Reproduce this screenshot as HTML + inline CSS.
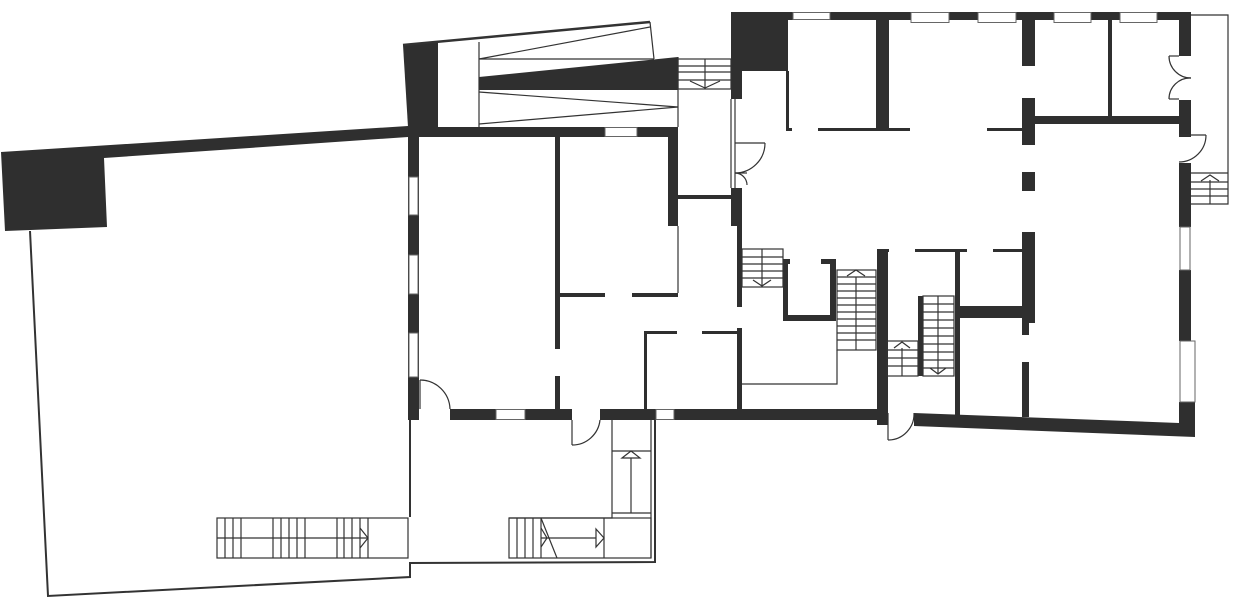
<!DOCTYPE html>
<html><head><meta charset="utf-8"><style>html,body{margin:0;padding:0;background:#fff}svg{display:block}</style></head><body>
<svg width="1251" height="598" viewBox="0 0 1251 598" xmlns="http://www.w3.org/2000/svg">
<g fill="#2f2f2f" stroke="none">
<polygon points="1,152 408,126 408,137 104,158 107,227 5,231"/>
<polygon points="403,45 438,42 438,127 408,127"/>
<polygon points="479,77 678,57 678,90 479,90"/>
<rect x="400" y="127" width="278" height="10"/>
<rect x="408" y="127" width="11" height="293"/>
<rect x="555" y="137" width="5" height="212"/>
<rect x="555" y="376" width="5" height="33"/>
<rect x="668" y="137" width="10" height="89"/>
<rect x="560" y="293" width="45" height="4"/>
<rect x="632" y="293" width="46" height="4"/>
<rect x="644" y="332" width="3" height="77"/>
<rect x="644" y="331" width="33" height="3"/>
<rect x="702" y="331" width="36" height="3"/>
<rect x="737" y="328" width="5" height="81"/>
<rect x="450" y="409" width="122" height="11"/>
<rect x="600" y="409" width="277" height="11"/>
<rect x="678" y="195" width="53" height="4"/>
<rect x="731" y="12" width="460" height="8"/>
<rect x="731" y="12" width="57" height="59"/>
<rect x="731" y="12" width="11" height="87"/>
<rect x="731" y="188" width="11" height="38"/>
<rect x="737" y="226" width="5" height="81"/>
<rect x="786" y="71" width="3" height="59"/>
<rect x="786" y="128" width="6" height="3"/>
<rect x="818" y="128" width="92" height="3"/>
<rect x="987" y="128" width="35" height="3"/>
<rect x="876" y="12" width="13" height="119"/>
<rect x="1022" y="12" width="13" height="54"/>
<rect x="1022" y="98" width="13" height="47"/>
<rect x="1022" y="172" width="13" height="19"/>
<rect x="1022" y="232" width="13" height="91"/>
<rect x="1022" y="323" width="7" height="12"/>
<rect x="1022" y="362" width="7" height="55"/>
<rect x="1035" y="116" width="144" height="8"/>
<rect x="1108" y="20" width="4" height="96"/>
<rect x="1179" y="12" width="12" height="44"/>
<rect x="1179" y="100" width="12" height="37"/>
<rect x="1179" y="163" width="12" height="64"/>
<rect x="1179" y="270" width="12" height="71"/>
<polygon points="914,413 1179,423 1179,402 1195,402 1195,437 914,426"/>
<rect x="877" y="250" width="11" height="175"/>
<rect x="877" y="249" width="12" height="3"/>
<rect x="915" y="249" width="52" height="3"/>
<rect x="993" y="249" width="29" height="3"/>
<rect x="955" y="251" width="5" height="165"/>
<rect x="960" y="306" width="75" height="12"/>
<rect x="783" y="259" width="5" height="62"/>
<rect x="783" y="259" width="7" height="5"/>
<rect x="783" y="315" width="53" height="6"/>
<rect x="830" y="259" width="6" height="62"/>
<rect x="821" y="259" width="15" height="5"/>
<rect x="918" y="296" width="5" height="80"/>
<rect x="720" y="409" width="157" height="11"/>
</g>
<g fill="#fff" stroke="#666" stroke-width="1">
<rect x="605" y="127.5" width="32" height="9"/>
<rect x="409" y="177" width="9" height="38"/>
<rect x="409" y="255" width="9" height="39"/>
<rect x="409" y="333" width="9" height="44"/>
<rect x="496" y="409.5" width="29" height="10"/>
<rect x="656" y="409.5" width="18" height="10"/>
<rect x="793" y="12.5" width="37" height="7"/>
<rect x="911" y="12.5" width="38" height="10"/>
<rect x="978" y="12.5" width="38" height="10"/>
<rect x="1054" y="12.5" width="37" height="10"/>
<rect x="1120" y="12.5" width="37" height="10"/>
<rect x="1180" y="227" width="10" height="43"/>
<rect x="1180" y="341" width="15" height="61"/>
</g>
<g fill="none" stroke="#333" stroke-width="1.2">
<polyline points="30,231 48,596 410,577 410,563 655,562 655,420" stroke-width="2"/>
<line x1="410" y1="420" x2="410" y2="517" stroke-width="2"/>
<line x1="403" y1="45" x2="650" y2="22" stroke-width="2.5"/>
<line x1="650" y1="22" x2="654" y2="59"/>
<line x1="479" y1="42" x2="479" y2="127"/>
<line x1="479" y1="59" x2="650" y2="27"/>
<line x1="479" y1="59" x2="654" y2="59"/>
<line x1="479" y1="92" x2="678" y2="107"/>
<line x1="479" y1="124" x2="678" y2="107"/>
<line x1="678" y1="57" x2="678" y2="127"/>
<rect x="678" y="59" width="53" height="30"/>
<line x1="678" y1="66" x2="731" y2="66"/><line x1="678" y1="72" x2="731" y2="72"/><line x1="678" y1="80" x2="731" y2="80"/>
<line x1="705" y1="59" x2="705" y2="89"/>
<polyline points="690,81 705,88 720,81"/>
<line x1="678" y1="226" x2="678" y2="293"/>
<line x1="731" y1="99" x2="731" y2="188"/><line x1="735" y1="99" x2="735" y2="188"/>
<line x1="735" y1="143" x2="765" y2="143"/>
<path d="M765,143 A30,30 0 0 1 735,173"/>
<line x1="735" y1="173" x2="747" y2="173"/>
<path d="M735,173 A12,12 0 0 1 747,185"/>
<line x1="420" y1="380" x2="420" y2="409"/>
<path d="M420,380 A30,30 0 0 1 450,409"/>
<line x1="572" y1="420" x2="572" y2="445"/>
<path d="M572,445 A28,28 0 0 0 600,420"/>
<polyline points="612,420 612,518 509,518"/>
<line x1="651" y1="420" x2="651" y2="558"/>
<line x1="612" y1="451" x2="651" y2="451"/>
<line x1="612" y1="513" x2="651" y2="513"/>
<line x1="631" y1="513" x2="631" y2="458"/>
<polygon points="622,458 631,451 640,458"/>
<rect x="509" y="518" width="142" height="40"/>
<line x1="517" y1="518" x2="517" y2="558"/><line x1="525" y1="518" x2="525" y2="558"/><line x1="533" y1="518" x2="533" y2="558"/><line x1="541" y1="518" x2="541" y2="558"/>
<line x1="541" y1="518" x2="557" y2="558"/>
<line x1="604" y1="518" x2="604" y2="558"/>
<line x1="541" y1="538" x2="596" y2="538"/>
<polygon points="596,529 604,538 596,547"/>
<polyline points="541,528 547,538 541,547"/>
<rect x="217" y="518" width="191" height="40"/>
<line x1="225" y1="518" x2="225" y2="558"/><line x1="233" y1="518" x2="233" y2="558"/><line x1="241" y1="518" x2="241" y2="558"/>
<line x1="273" y1="518" x2="273" y2="558"/><line x1="281" y1="518" x2="281" y2="558"/><line x1="289" y1="518" x2="289" y2="558"/><line x1="297" y1="518" x2="297" y2="558"/><line x1="305" y1="518" x2="305" y2="558"/>
<line x1="337" y1="518" x2="337" y2="558"/><line x1="344" y1="518" x2="344" y2="558"/><line x1="352" y1="518" x2="352" y2="558"/><line x1="360" y1="518" x2="360" y2="558"/><line x1="368" y1="518" x2="368" y2="558"/>
<line x1="217" y1="538" x2="368" y2="538"/>
<polyline points="360,528 368,538 360,548"/>
<rect x="742" y="249" width="41" height="38"/>
<line x1="742" y1="257" x2="783" y2="257"/><line x1="742" y1="264" x2="783" y2="264"/><line x1="742" y1="271" x2="783" y2="271"/><line x1="742" y1="278" x2="783" y2="278"/>
<line x1="762" y1="249" x2="762" y2="287"/>
<polyline points="753,280 762,286 771,280"/>
<rect x="837" y="270" width="39" height="80"/>
<line x1="837" y1="277" x2="876" y2="277"/><line x1="837" y1="284" x2="876" y2="284"/><line x1="837" y1="291" x2="876" y2="291"/><line x1="837" y1="298" x2="876" y2="298"/><line x1="837" y1="305" x2="876" y2="305"/><line x1="837" y1="312" x2="876" y2="312"/><line x1="837" y1="319" x2="876" y2="319"/><line x1="837" y1="326" x2="876" y2="326"/><line x1="837" y1="333" x2="876" y2="333"/><line x1="837" y1="340" x2="876" y2="340"/>
<line x1="856" y1="277" x2="856" y2="350"/>
<polyline points="847,276 856,270 865,276"/>
<polyline points="837,350 837,384 742,384"/>
<rect x="887" y="341" width="31" height="35"/>
<line x1="887" y1="350" x2="918" y2="350"/><line x1="887" y1="358" x2="918" y2="358"/><line x1="887" y1="366" x2="918" y2="366"/>
<line x1="902" y1="348" x2="902" y2="376"/>
<polyline points="894,348 902,342 910,348"/>
<rect x="923" y="296" width="31" height="80"/>
<line x1="923" y1="304" x2="954" y2="304"/><line x1="923" y1="312" x2="954" y2="312"/><line x1="923" y1="320" x2="954" y2="320"/><line x1="923" y1="328" x2="954" y2="328"/><line x1="923" y1="336" x2="954" y2="336"/><line x1="923" y1="344" x2="954" y2="344"/><line x1="923" y1="352" x2="954" y2="352"/><line x1="923" y1="360" x2="954" y2="360"/><line x1="923" y1="368" x2="954" y2="368"/>
<line x1="938" y1="296" x2="938" y2="374"/>
<polyline points="930,368 938,374 946,368"/>
<line x1="888" y1="413" x2="888" y2="440"/>
<path d="M888,440 A26,26 0 0 0 914,413"/>
<polyline points="1191,15 1228,15 1228,204 1191,204"/>
<line x1="1191" y1="173" x2="1228" y2="173"/><line x1="1191" y1="182" x2="1228" y2="182"/><line x1="1191" y1="189" x2="1228" y2="189"/><line x1="1191" y1="196" x2="1228" y2="196"/>
<line x1="1210" y1="180" x2="1210" y2="204"/>
<polyline points="1201,181 1210,175 1219,181"/>
<line x1="1169" y1="56" x2="1179" y2="56"/><line x1="1169" y1="99" x2="1179" y2="99"/>
<path d="M1169,56 A22,22 0 0 0 1191,78"/>
<path d="M1191,78 A21,21 0 0 0 1169,99"/>
<line x1="1179" y1="135" x2="1206" y2="135"/>
<path d="M1206,135 A27,27 0 0 1 1179,162"/>
</g>
</svg>
</body></html>
